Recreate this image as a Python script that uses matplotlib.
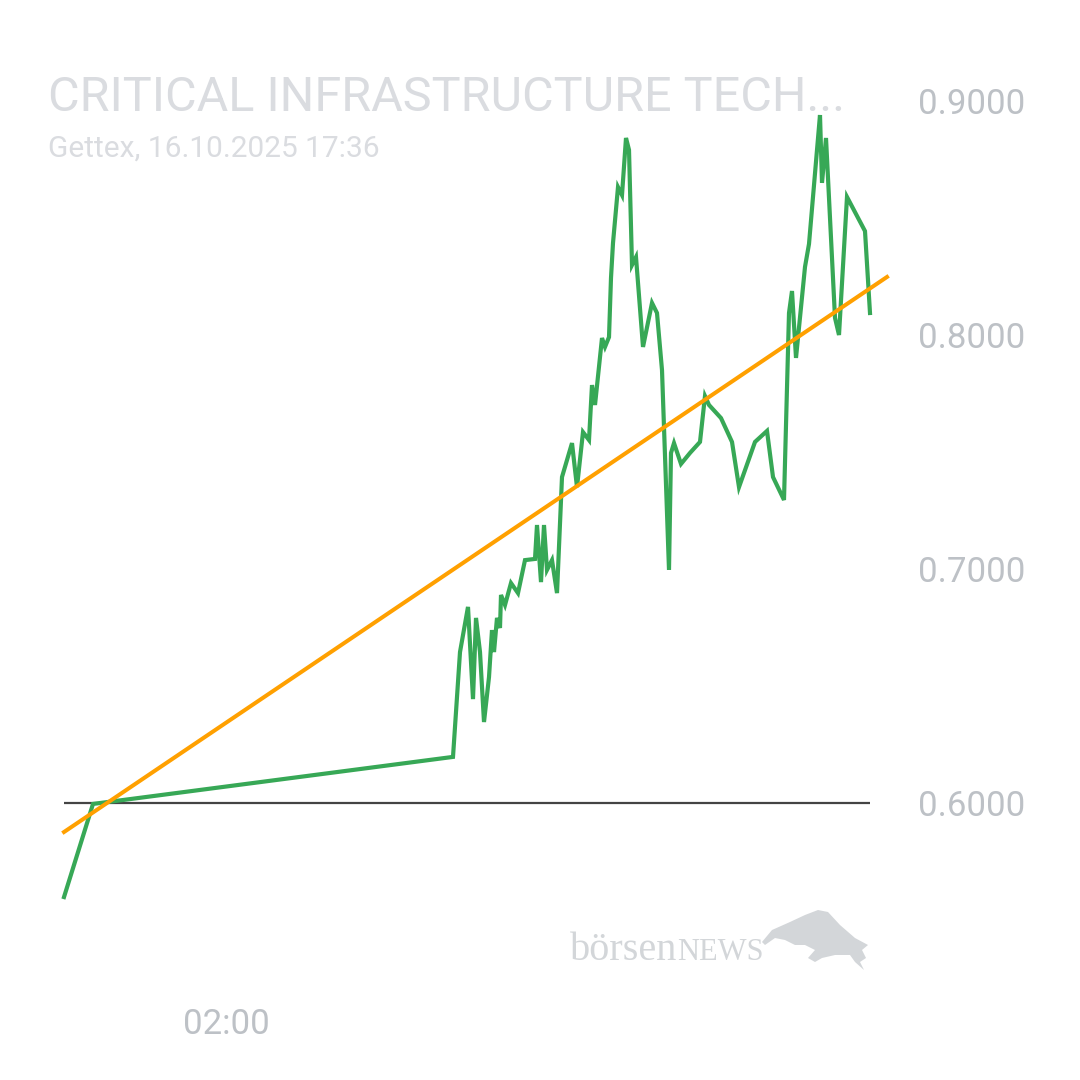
import numpy as np
import matplotlib.pyplot as plt
from matplotlib.patches import Polygon

# price series (hours, value)
hours = [0.38, 0.67, 4.27, 4.34, 4.42, 4.47, 4.50, 4.54, 4.58, 4.63, 4.66, 4.68,
         4.71, 4.74, 4.75, 4.79, 4.85, 4.92, 4.99, 5.09, 5.11, 5.15, 5.18, 5.21,
         5.26, 5.31, 5.36, 5.46, 5.51, 5.57, 5.63, 5.66, 5.69, 5.76, 5.79, 5.83,
         5.85, 5.87, 5.92, 5.96, 6.00, 6.03, 6.06, 6.10, 6.17, 6.26, 6.31, 6.36,
         6.43, 6.45, 6.48, 6.55, 6.64, 6.74, 6.79, 6.83, 6.95, 7.06, 7.13, 7.29,
         7.41, 7.47, 7.58, 7.63, 7.66, 7.70, 7.79, 7.83, 7.91, 7.94, 7.96, 8.00,
         8.04, 8.09, 8.13, 8.21, 8.39, 8.44]
prices = [0.5598, 0.5996, 0.6197, 0.6645, 0.6838, 0.6444, 0.6791, 0.6645, 0.6346,
          0.6538, 0.6739, 0.6645, 0.6791, 0.6748, 0.6889, 0.6846, 0.6940, 0.6897,
          0.7038, 0.7043, 0.7188, 0.6944, 0.7188, 0.6996, 0.7038, 0.6897, 0.7393,
          0.7538, 0.7350, 0.7585, 0.7551, 0.7786, 0.7701, 0.7987, 0.7949, 0.7991,
          0.8244, 0.8393, 0.8632, 0.8598, 0.8842, 0.8791, 0.8299, 0.8333, 0.7949,
          0.8137, 0.8094, 0.7850, 0.6996, 0.7496, 0.7538, 0.7449, 0.7496, 0.7543,
          0.7739, 0.7701, 0.7645, 0.7543, 0.7350, 0.7543, 0.7590, 0.7393, 0.7295,
          0.8094, 0.8188, 0.7902, 0.8291, 0.8389, 0.8791, 0.8940, 0.8650, 0.8842,
          0.8500, 0.8073, 0.8000, 0.8590, 0.8444, 0.8094]

prev_close = 0.6
trend_hours = [0.38, 8.61]
trend_values = [0.5876, 0.8248]

y_ticks = [0.6, 0.7, 0.8, 0.9]
x_ticks = [2.0]
x_labels = ['02:00']

GREEN = '#37a856'
ORANGE = '#ffa000'
GRAY = '#bdc1c6'
LIGHT = '#dadce0'
MARK = '#d3d6d9'

fig = plt.figure(figsize=(10.8, 10.8), dpi=100)
W = H = 1080
ax = fig.add_axes([64 / W, 1 - 990.2 / H, 806 / W, 936 / H])

ax.plot(hours, prices, color=GREEN, lw=3, solid_joinstyle='miter', zorder=3, clip_on=False)
ax.plot([hours[0], hours[-1]], [prev_close, prev_close], color='#444444', lw=1.6, zorder=2)
ax.plot(trend_hours, trend_values, color=ORANGE, lw=2.9, zorder=4, clip_on=False)

ax.set_xlim(hours[0], hours[-1])
ax.set_ylim(0.52, 0.92)
for s in ax.spines.values():
    s.set_visible(False)
ax.yaxis.tick_right()
ax.set_yticks(y_ticks)
ax.set_yticklabels(['%.4f' % v for v in y_ticks])
ax.set_xticks(x_ticks)
ax.set_xticklabels(x_labels)
ax.tick_params(axis='y', length=0, pad=34.5, labelsize=25, labelcolor=GRAY)
ax.tick_params(axis='x', length=0, pad=13, labelsize=25, labelcolor=GRAY)
for lab in ax.get_xticklabels() + ax.get_yticklabels():
    lab.set_fontfamily('Roboto')

# header
fig.text(48 / W, 1 - 111 / H, 'CRITICAL INFRASTRUCTURE TECH...', color=LIGHT,
         fontsize=35, family='Roboto', va='baseline', ha='left')
fig.text(48 / W, 1 - 157 / H, 'Gettex, 16.10.2025 17:36', color=LIGHT,
         fontsize=21.5, family='Roboto', va='baseline', ha='left')

# watermark
t1 = fig.text(570 / W, 1 - 960 / H, 'börsen', color=MARK, fontsize=29,
              family='Liberation Serif', va='baseline', ha='left')
fig.canvas.draw()
x_end = t1.get_window_extent().x1
fig.text(x_end / W, 1 - 960 / H, 'NEWS', color=MARK, fontsize=22,
         family='Liberation Serif', va='baseline', ha='left')
bull = [(762, 942), (772, 930), (790, 922), (805, 915), (818, 910), (828, 912),
        (840, 925), (855, 938), (868, 945), (862, 950), (866, 958), (860, 962),
        (864, 970), (855, 962), (850, 955), (835, 955), (822, 958), (815, 962),
        (808, 958), (815, 950), (805, 945), (795, 945), (785, 940), (775, 938),
        (765, 945)]
fig.patches.append(Polygon([(x / W, 1 - y / H) for x, y in bull], closed=True,
                           transform=fig.transFigure, facecolor=MARK,
                           edgecolor='none'))

fig.savefig('out.png', dpi=100, facecolor='white')
